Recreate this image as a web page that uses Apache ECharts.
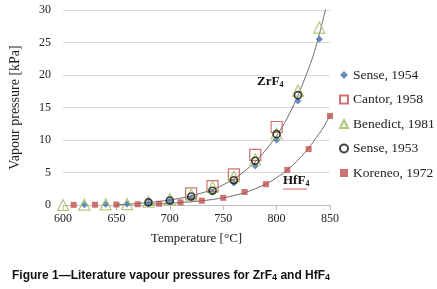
<!DOCTYPE html>
<html><head><meta charset="utf-8">
<script src="https://cdn.jsdelivr.net/npm/echarts@6/dist/echarts.min.js"></script>
<style>html,body{margin:0;padding:0;background:#fff}#c{width:437px;height:289px}</style>
</head><body><div id="c"></div>
<script>
// ---- data ----
const xTicks = [600, 650, 700, 750, 800, 850];
const yTicks = [0, 5, 10, 15, 20, 25, 30];

const sense1954T = [620, 640, 660, 680, 700, 720, 740, 760, 780, 800, 820, 840];
const sense1954P = [0.05, 0.1, 0.15, 0.3, 0.6, 1.1, 2.0, 3.4, 6.0, 10.0, 16.0, 25.5];

const cantor1958T = [720, 740, 760, 780, 800];
const cantor1958P = [1.8, 2.9, 4.7, 7.7, 12.0];

const benedict1981T = [600, 620, 640, 660, 680, 700, 720, 740, 760, 780, 800, 820, 840];
const benedict1981P = [0, 0.05, 0.1, 0.15, 0.5, 0.9, 1.6, 2.8, 4.4, 7.0, 11.0, 17.6, 27.3];

const sense1953T = [680, 700, 720, 740, 760, 780, 800, 820];
const sense1953P = [0.4, 0.7, 1.3, 2.2, 3.8, 6.8, 10.9, 16.9];

const koreneo1972T = [610, 630, 650, 670, 690, 710, 730, 750, 770, 790, 810, 830, 850];
const koreneo1972P = [0.02, 0.04, 0.07, 0.12, 0.2, 0.4, 0.66, 1.1, 2.0, 3.2, 5.4, 8.6, 13.7];

// trend curves
const zrTrendT = [650, 670, 690, 710, 730, 750, 770, 790, 810, 830, 840, 850];
const zrTrendP = [0.05, 0.22, 0.55, 1.05, 1.85, 3.1, 5.2, 8.5, 13.4, 21.0, 26.3, 33.0];
const hfTrendT = [680, 700, 720, 740, 760, 780, 800, 820, 840, 850];
const hfTrendP = [0.1, 0.28, 0.5, 0.85, 1.45, 2.5, 4.2, 6.9, 11.0, 13.8];

const legendNames = ['Sense, 1954', 'Cantor, 1958', 'Benedict, 1981', 'Sense, 1953', 'Koreneo, 1972'];

function pairs(t, p) { return t.map((v, i) => [v, p[i]]); }

const serif = '"Liberation Serif", "DejaVu Serif", serif';
const sans = '"Liberation Sans", Arial, sans-serif';
const chart = echarts.init(document.getElementById('c'));
chart.setOption({
  animation: false,
  backgroundColor: '#fff',
  grid: { left: 62, right: 107, top: 10, bottom: 84 },
  xAxis: {
    type: 'value', min: xTicks[0], max: xTicks[xTicks.length - 1], interval: 50,
    name: 'Temperature [°C]', nameLocation: 'middle', nameGap: 27,
    nameTextStyle: { fontFamily: serif, fontSize: 13, color: '#222' },
    axisLine: { lineStyle: { color: '#bfbfbf' } },
    axisTick: { show: true, lineStyle: { color: '#bfbfbf' }, length: 5 },
    axisLabel: { fontFamily: serif, fontSize: 12, color: '#222', margin: 8 },
    splitLine: { show: false }
  },
  yAxis: {
    type: 'value', min: yTicks[0], max: yTicks[yTicks.length - 1], interval: 5,
    name: 'Vapour pressure [kPa]', nameLocation: 'middle', nameGap: 41,
    nameTextStyle: { fontFamily: serif, fontSize: 14, color: '#222' },
    axisLine: { show: false },
    axisTick: { show: false },
    axisLabel: { fontFamily: serif, fontSize: 12, color: '#222', margin: 12 },
    splitLine: { lineStyle: { color: '#d9d9d9', width: 1 } }
  },
  legend: {
    orient: 'vertical', left: 334, top: 63, itemGap: 10.5,
    itemWidth: 8, itemHeight: 8,
    textStyle: { fontFamily: serif, fontSize: 13.5, color: '#222', lineHeight: 14 },
    data: legendNames
  },
  series: [
    { name: 'zrTrend', type: 'line', data: pairs(zrTrendT, zrTrendP), smooth: 0.4, showSymbol: false, clip: true,
      lineStyle: { color: '#6e6e6e', width: 1 }, z: 1, silent: true },
    { name: 'hfTrend', type: 'line', data: pairs(hfTrendT, hfTrendP), smooth: 0.4, showSymbol: false, clip: true,
      lineStyle: { color: '#6e6e6e', width: 1 }, z: 1, silent: true },
    { name: legendNames[0], type: 'scatter', data: pairs(sense1954T, sense1954P), symbol: 'diamond', symbolSize: 7,
      itemStyle: { color: '#4470b4' }, z: 2 },
    { name: legendNames[1], type: 'scatter', data: pairs(cantor1958T, cantor1958P), symbol: 'rect', symbolSize: 11,
      itemStyle: { color: 'rgba(255,255,255,0)', borderColor: '#c0504d', borderWidth: 1.2 }, z: 3 },
    { name: legendNames[2], type: 'scatter', data: pairs(benedict1981T, benedict1981P), symbol: 'triangle', symbolSize: 11,
      itemStyle: { color: 'rgba(255,255,255,0)', borderColor: '#9bbb59', borderWidth: 1.2 }, z: 4 },
    { name: legendNames[3], type: 'scatter', data: pairs(sense1953T, sense1953P), symbol: 'circle', symbolSize: 7,
      itemStyle: { color: 'rgba(255,255,255,0)', borderColor: '#111', borderWidth: 1.6 }, z: 5 },
    { name: legendNames[4], type: 'scatter', data: pairs(koreneo1972T, koreneo1972P), symbol: 'rect', symbolSize: 6,
      itemStyle: { color: '#c0504d' }, z: 6 }
  ],
  graphic: [
    { type: 'text', left: 257, top: 75, z: 10,
      style: { text: 'ZrF{s|4}', font: 'bold 13px ' + serif, fill: '#111',
        rich: { s: { fontSize: 8, fontWeight: 'bold', fontFamily: serif, verticalAlign: 'bottom', padding: [6, 0, 0, 0] } } } },
    { type: 'text', left: 283, top: 174, z: 10,
      style: { text: 'HfF{s|4}', font: 'bold 13px ' + serif, fill: '#111',
        rich: { s: { fontSize: 8, fontWeight: 'bold', fontFamily: serif, verticalAlign: 'bottom', padding: [6, 0, 0, 0] } } } },
    { type: 'line', z: 10, shape: { x1: 283, y1: 189, x2: 307, y2: 189 }, style: { stroke: '#e06060', lineWidth: 1 } },
    { type: 'text', left: 12, top: 270, z: 10,
      style: { text: 'Figure 1\u2014Literature vapour pressures for ZrF{s|4} and HfF{s|4}',
        font: 'bold 12px ' + sans, fill: '#111',
        rich: { s: { fontSize: 9, fontWeight: 'bold', fontFamily: sans, padding: [4, 0, 0, 0] } } } }
  ]
});
</script></body></html>
